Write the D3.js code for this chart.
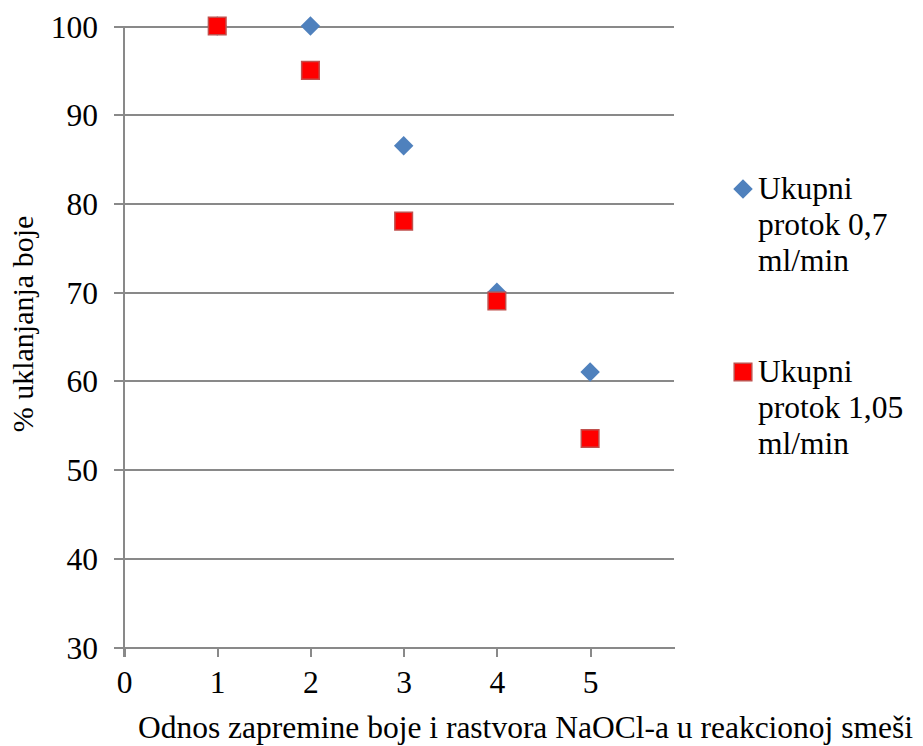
<!DOCTYPE html>
<html>
<head>
    <meta charset="UTF-8">
    <title>Uklanjanje boje</title>
    <script src="https://cdnjs.cloudflare.com/ajax/libs/d3/7.8.5/d3.min.js"></script>
    <style>
        body { margin: 0; background: #fff; }
        .grid line, .axis line, .axis path {
            stroke: #898989;
            stroke-width: 2px;
            shape-rendering: crispEdges;
        }
    </style>
</head>
<body>
    <svg width="923" height="746"></svg>
    <script>
        // data
        const ratio = [1, 2, 3, 4, 5];
        const protok07 = [100, 100, 86.5, 70, 61];
        const protok105 = [100, 95, 78, 69, 53.5];
        const seriesNames = [
            ["Ukupni", "protok 0,7", "ml/min"],
            ["Ukupni", "protok 1,05", "ml/min"]
        ];
        const xTicks = [0, 1, 2, 3, 4, 5];
        const yTicks = [30, 40, 50, 60, 70, 80, 90, 100];
        const xTitle = "Odnos zapremine boje i rastvora NaOCl-a u reakcionoj smeši";
        const yTitle = "% uklanjanja boje";

        const svg = d3.select("svg");
        const plotL = 124, plotR = 674, plotT = 26, plotB = 647;

        const x = d3.scaleLinear().domain([0, 5.9]).range([plotL, plotR]);
        const y = d3.scaleLinear().domain([30, 100]).range([plotB, plotT]);

        // horizontal gridlines + y ticks
        const yAxis = svg.append("g")
            .attr("class", "axis grid")
            .attr("transform", `translate(${plotL},0)`)
            .call(d3.axisLeft(y).tickValues(yTicks).tickFormat(d3.format("d")).tickSize(10).tickPadding(16));
        yAxis.select(".domain").remove();
        yAxis.selectAll(".tick line").attr("x1", plotR - plotL);
        yAxis.selectAll(".tick text").attr("dy", "0.35em");

        // x axis
        const xAxis = svg.append("g")
            .attr("class", "axis")
            .attr("transform", `translate(0,${plotB})`)
            .call(d3.axisBottom(x).tickValues(xTicks).tickFormat(d3.format("d")).tickSize(10).tickSizeOuter(0).tickPadding(14));
        xAxis.selectAll(".tick text").attr("dy", "0.71em");

        // vertical axis line
        svg.append("line")
            .attr("x1", x(0)).attr("x2", x(0))
            .attr("y1", y(100)).attr("y2", y(30) + 10)
            .attr("stroke", "#898989").attr("stroke-width", 2)
            .style("shape-rendering", "crispEdges");

        const diamond = d3.symbol().type(d3.symbolSquare).size(190);
        const square = d3.symbol().type(d3.symbolSquare).size(310);

        // series 1: blue diamonds
        svg.append("g").selectAll("path")
            .data(ratio.map((r, i) => [r, protok07[i]]))
            .join("path")
            .attr("d", diamond)
            .attr("transform", d => `translate(${x(d[0])},${y(d[1])}) rotate(45)`)
            .attr("fill", "#4f81bd");

        // series 2: red squares
        svg.append("g").selectAll("path")
            .data(ratio.map((r, i) => [r, protok105[i]]))
            .join("path")
            .attr("d", square)
            .attr("transform", d => `translate(${x(d[0])},${y(d[1])})`)
            .attr("fill", "#ff0000")
            .attr("stroke", "#c0504d")
            .attr("stroke-width", 1.5);

        // legend
        const legend = svg.append("g").attr("transform", "translate(743,0)");
        const legY = [189, 372];
        legend.append("path").attr("d", diamond)
            .attr("transform", `translate(0,${legY[0]}) rotate(45)`)
            .attr("fill", "#4f81bd");
        legend.append("path").attr("d", square)
            .attr("transform", `translate(0,${legY[1]})`)
            .attr("fill", "#ff0000").attr("stroke", "#c0504d").attr("stroke-width", 1.5);
        seriesNames.forEach((lines, i) => {
            const t = legend.append("text").attr("x", 15).attr("y", legY[i] + 10);
            lines.forEach((s, j) => {
                t.append("tspan").attr("x", 15).attr("dy", j === 0 ? 0 : 36).text(s);
            });
        });

        // x title
        svg.append("text")
            .attr("x", 913).attr("y", 738)
            .attr("text-anchor", "end")
            .text(xTitle);

        // serif text everywhere
        svg.selectAll("text, tspan")
            .style("font-family", "'Liberation Serif', serif")
            .style("font-size", "31.5px")
            .style("fill", "#000");

        // y title (a little smaller)
        svg.append("text")
            .attr("transform", "translate(33,324) rotate(-90)")
            .attr("text-anchor", "middle")
            .style("font-family", "'Liberation Serif', serif")
            .style("font-size", "30px")
            .style("fill", "#000")
            .text(yTitle);
    </script>
</body>
</html>
